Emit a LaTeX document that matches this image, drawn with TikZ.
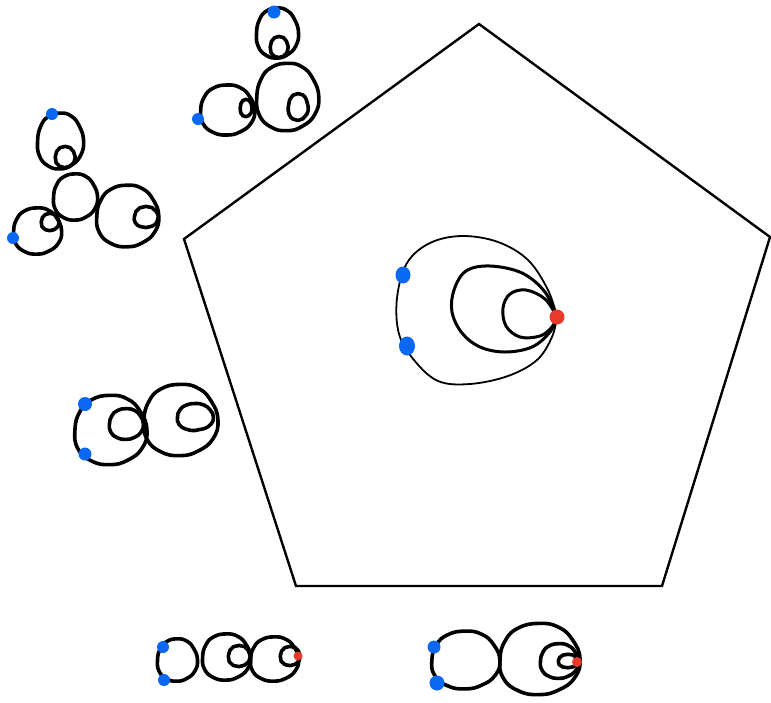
\documentclass[tikz,border=0pt]{standalone}
\begin{document}
\definecolor{dotblue}{RGB}{10,104,245}
\definecolor{dotred}{RGB}{232,57,42}
\tikzset{
  loopline/.style={line width=3.6pt, line cap=round, line join=round},
  thinline/.style={line width=1.8pt, line cap=round, line join=round},
  bluedot/.style={fill=dotblue},
  reddot/.style={fill=dotred}
}
% wobbly hand-drawn loop: centre (#2,#3), radii #4 and #5
\newcommand\sketchloop[5][]{%
  \draw[loopline,#1] plot[smooth cycle, tension=0.8, domain=0:330, samples=12]
    ({#2+#4*cos(\x)*(1+0.04*sin(3*\x+40))},{#3+#5*sin(\x)*(1+0.04*cos(2*\x+20))});}
\begin{tikzpicture}[x=1pt,y=-1pt]
\useasboundingbox (0,0) rectangle (771,702);

% pentagon
\draw[line width=2.4pt, line join=miter]
  (479,24) -- (770,237) -- (662,586) -- (296,586) -- (184,239) -- cycle;

% central figure: three loops through the red vertex
\draw[thinline] plot[smooth, tension=0.6] coordinates {
  (557,317) (548,290) (528,260) (498,242) (462,236) (430,243) (407,263)
  (397,298) (399,334) (414,360) (438,381) (470,384) (508,376) (537,360) (552,337) (557,317)};
\draw[line width=3pt, line cap=round, line join=round] plot[smooth, tension=0.6] coordinates {
  (557,317) (545,292) (522,273) (490,266) (466,271) (454,290) (452,312)
  (462,333) (480,347) (505,352) (532,347) (550,332) (557,317)};
\draw[line width=3pt, line cap=round, line join=round] plot[smooth, tension=0.6] coordinates {
  (557,317) (545,299) (526,290) (510,294) (503,308) (506,326)
  (520,337) (540,336) (552,327) (557,317)};
\fill[bluedot] (403,275) ellipse (7.5 and 8.5);
\fill[bluedot] (407,346) ellipse (8 and 9.5);
\fill[reddot] (557,317) circle (7.5);

% figure with three petals (upper left)
\sketchloop{60}{141}{23}{29}
\sketchloop{65}{157}{10}{11}
\sketchloop{75}{197}{22}{24}
\sketchloop{127}{216}{31}{32}
\sketchloop{146}{217}{12}{11}
\sketchloop{37}{231}{24}{24}
\sketchloop{50}{222}{9}{9}
\fill[bluedot] (52,114) circle (6);
\fill[bluedot] (13,238) circle (6);

% figure with three petals (top)
\sketchloop{277}{33}{21}{26}
\sketchloop{279}{47}{9}{11}
\sketchloop{287}{97}{31}{35}
\sketchloop{298}{107}{10}{14}
\sketchloop{227}{110}{27}{26}
\sketchloop{246}{108}{6}{9}
\fill[bluedot] (274,12) circle (6.5);
\fill[bluedot] (198,119) circle (6);

% two-loop figure (left)
\sketchloop{110}{430}{36}{36}
\sketchloop{126}{424}{17}{16}
\sketchloop{180}{420}{37}{37}
\sketchloop{195}{417}{18}{14}
\fill[bluedot] (85,404) circle (7);
\fill[bluedot] (85,454) circle (6.5);

% chain of three loops (bottom left)
\sketchloop{177}{660}{20}{22}
\sketchloop{226}{657}{24}{24}
\sketchloop{239}{656}{11}{11}
\sketchloop{274}{659}{24}{23}
\sketchloop{290}{656}{10}{10}
\fill[bluedot] (163,647) circle (6);
\fill[bluedot] (164,680) circle (6);
\fill[reddot] (298,656) circle (4.5);

% nested loops (bottom right)
\sketchloop{465}{660}{34}{30}
\sketchloop{539}{659}{40}{37}
\sketchloop{559}{661}{19}{18}
\sketchloop{568}{661}{10}{7}
\fill[bluedot] (434,647) circle (6.5);
\fill[bluedot] (437,683) circle (7.5);
\fill[reddot] (577,662) circle (5);
\end{tikzpicture}
\end{document}
